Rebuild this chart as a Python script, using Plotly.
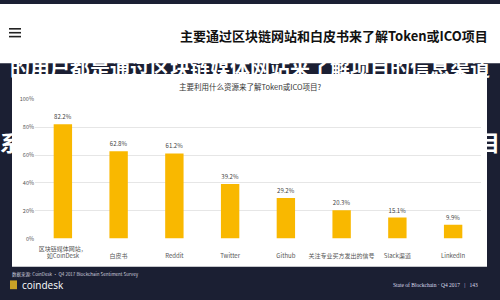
import plotly.graph_objects as go

categories = ["区块链媒体网站，<br>如CoinDesk", " <br>白皮书", " <br>Reddit", " <br>Twitter",
              " <br>Github", " <br>关注专业买方发出的信号", " <br>Slack渠道", " <br>LinkedIn"]
values = [82.2, 62.8, 61.2, 39.2, 29.2, 20.3, 15.1, 9.9]
value_labels = [f"{v}%" for v in values]
y_ticks = [0, 20, 40, 60, 80, 100]
y_tick_labels = [f"{t}%" for t in y_ticks]

W, H = 500, 300
def px(x): return x / W
def py(y): return 1 - y / H

NAVY = "#1b1f33"
BAR = "#F9B800"
CJK = "Noto Sans CJK SC, sans-serif"

fig = go.Figure(go.Bar(
    x=categories, y=values, text=value_labels, textposition="outside",
    textfont=dict(size=6, color="#444", family=CJK),
    marker=dict(color=BAR, line=dict(width=0)), cliponaxis=False,
))

shapes = [
    dict(type="rect", xref="paper", yref="paper", x0=0, x1=1, y0=py(61), y1=1,
         fillcolor="white", line=dict(width=0), layer="below"),
    dict(type="rect", xref="paper", yref="paper", x0=px(12), x1=px(487), y0=py(270), y1=py(72),
         fillcolor="white", line=dict(width=0), layer="below"),
    dict(type="rect", xref="paper", yref="paper", x0=px(10), x1=px(17), y0=py(293), y1=py(284),
         fillcolor="#c9a227", line=dict(width=0)),
]
for yy in (25.5, 29.5, 33.5):
    shapes.append(dict(type="line", xref="paper", yref="paper", x0=px(9), x1=px(21), y0=py(yy), y1=py(yy),
                       line=dict(color="#222", width=1.6)))

ann = [
    dict(text="<b>主要通过区块链网站和白皮书来了解Token或ICO项目</b>", x=px(490), y=py(32),
         xanchor="right", yanchor="middle", font=dict(size=13, color="#111", family=CJK)),
    # large white background text showing through the gaps
    dict(text="<b>的用户都是通过区块链媒体网站来了解项目的信息渠道</b>", x=0.5, y=py(65),
         xanchor="center", yanchor="middle", font=dict(size=20, color="white", family=CJK)),
    dict(text="<b>系</b>", x=px(11), y=py(141), xanchor="center", yanchor="middle",
         font=dict(size=22, color="white", family=CJK)),
    dict(text="<b>目</b>", x=px(489), y=py(141), xanchor="center", yanchor="middle",
         font=dict(size=22, color="white", family=CJK)),
    dict(text="主要利用什么资源来了解Token或ICO项目?", x=0.5, y=py(85), xanchor="center", yanchor="middle",
         font=dict(size=7.5, color="#333", family=CJK)),
    dict(text="数据来源: CoinDesk · Q4 2017 Blockchain Sentiment Survey", x=px(10), y=py(278),
         xanchor="left", yanchor="middle", font=dict(size=4.5, color="#ccd", family=CJK)),
    dict(text="coindesk", x=px(20), y=py(288.5), xanchor="left", yanchor="middle",
         font=dict(size=10, color="white", family="Open Sans, sans-serif")),
    dict(text="State of Blockchain · Q4 2017   |   143", x=px(480), y=py(289), xanchor="right",
         yanchor="middle", font=dict(size=5.5, color="#dde", family="Liberation Serif, serif")),
]
for a in ann:
    a.update(xref="paper", yref="paper", showarrow=False)

fig.update_layout(
    width=W, height=H, margin=dict(l=0, r=0, t=0, b=0),
    paper_bgcolor=NAVY, plot_bgcolor="rgba(0,0,0,0)",
    bargap=0.67, showlegend=False, shapes=shapes, annotations=ann,
    xaxis=dict(domain=[px(35), px(481)], type="category", tickangle=0, showgrid=False,
               showline=False, ticks="", ticklabelstandoff=5,
               tickfont=dict(size=6, color="#555", family=CJK)),
    yaxis=dict(domain=[py(241), py(98)], range=[0, 100], tickvals=y_ticks, ticktext=y_tick_labels,
               showgrid=True, gridcolor="#e6e6e6", gridwidth=1, zeroline=False, showline=False,
               ticks="", tickfont=dict(size=5.5, color="#555", family=CJK)),
)
fig.write_html("out.html")
